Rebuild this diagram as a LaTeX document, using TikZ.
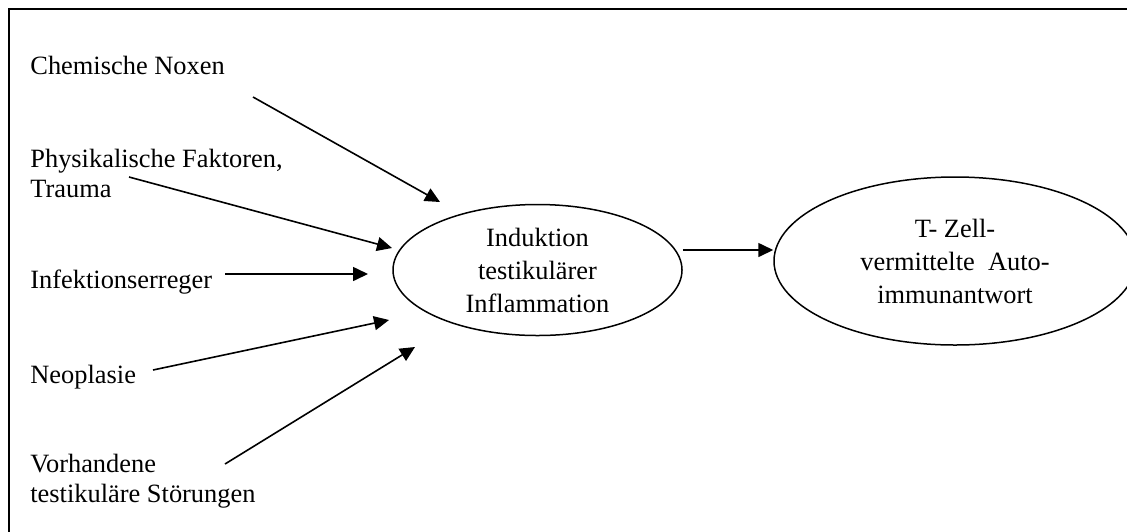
\documentclass[tikz,border=0pt]{standalone}
\usepackage{fontspec}
\setmainfont{Liberation Serif}
\usepackage{tikz}
\usetikzlibrary{arrows.meta,shapes,positioning,calc}
\tikzstyle{ursache}=[anchor=base west,align=left,inner sep=0pt,font=\fontsize{13.2}{15}\selectfont]
\tikzstyle{kreis}=[ellipse,draw,line width=0.75pt,inner sep=0pt,align=center,font=\fontsize{13.2}{16.5}\selectfont]
\tikzstyle{pfeil}=[line width=0.8pt,-{Triangle[length=7.5pt,width=7pt]}]

\begin{document}
\begin{tikzpicture}[x=0.5pt,y=-0.5pt]
      \clip (0,0) rectangle (1127,531);
      \draw[line width=1pt] (9,9) rectangle (1140,545);
      \node[ursache] at (30,74) (chem) {Chemische Noxen};
      \node[ursache] at (30,197) (phys) {Physikalische Faktoren,\\Trauma};
      \node[ursache] at (30,288) (infekt) {Infektionserreger};
      \node[ursache] at (30,383) (neo) {Neoplasie};
      \node[ursache] at (30,502) (vorh) {Vorhandene\\testikuläre Störungen};
      \node[kreis,minimum width=144.5pt,minimum height=65.5pt] at (537.5,270) (inflam) {Induktion\\testikulärer\\Inflammation};
      \node[kreis,minimum width=181pt,minimum height=84pt] at (955,261) (tzell) {T- Zell-\\vermittelte\ \ Auto-\\immunantwort};
      % freie Pfeilenden
      \coordinate (c1) at (253,97);   \coordinate (e1) at (440,202);
      \coordinate (c2) at (129,177);  \coordinate (e2) at (392,248);
      \coordinate (c3) at (225,274);  \coordinate (e3) at (368,274);
      \coordinate (c4) at (153,370);  \coordinate (e4) at (389,320);
      \coordinate (c5) at (225,464);  \coordinate (e5) at (415,347);
      \draw[pfeil] (c1) -- (e1);
      \draw[pfeil] (c2) -- (e2);
      \draw[pfeil] (c3) -- (e3);
      \draw[pfeil] (c4) -- (e4);
      \draw[pfeil] (c5) -- (e5);
      \draw[pfeil] ([yshift=10pt]inflam.east) -- ([yshift=5.5pt]tzell.west);
\end{tikzpicture}
\end{document}
